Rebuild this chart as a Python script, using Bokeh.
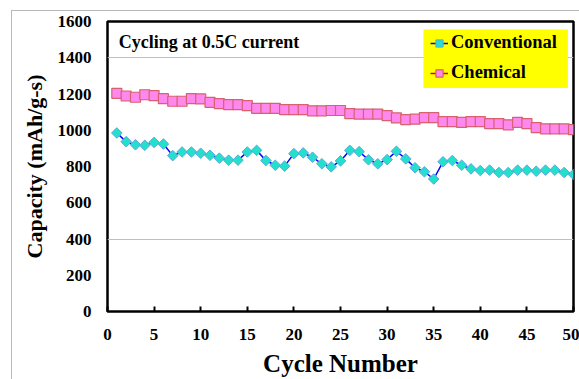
from bokeh.plotting import figure
from bokeh.models import Legend, LegendItem, Label, FixedTicker, Range1d, BoxAnnotation
from bokeh.embed import file_html
from bokeh.resources import INLINE

cycles = list(range(1, 51))
conventional = [985, 937, 920, 917, 933, 924, 860, 880, 880, 873,
                862, 846, 835, 835, 880, 889, 833, 807, 802, 871,
                875, 851, 815, 798, 831, 889, 882, 837, 815, 838,
                884, 842, 793, 771, 731, 826, 833, 807, 787, 778,
                780, 767, 767, 780, 780, 774, 780, 780, 767, 756]
chemical = [1204, 1189, 1182, 1196, 1191, 1174, 1160, 1160, 1174, 1173,
            1154, 1147, 1141, 1141, 1136, 1121, 1121, 1121, 1114, 1114,
            1114, 1107, 1107, 1109, 1109, 1092, 1089, 1089, 1089, 1081,
            1068, 1059, 1061, 1070, 1070, 1048, 1048, 1043, 1048, 1048,
            1037, 1037, 1030, 1043, 1037, 1015, 1008, 1008, 1008, 1003]
x_ticks = [0, 5, 10, 15, 20, 25, 30, 35, 40, 45, 50]
y_ticks = [0, 200, 400, 600, 800, 1000, 1200, 1400, 1600]
grid_ticks = [400, 1400]
title_text = "Cycling at 0.5C current"
x_title = "Cycle Number"
y_title = "Capacity (mAh/g-s)"

FONT = "Liberation Serif"
GRAY_LINE = "linear-gradient(#b8b8b8, #b8b8b8)"

p = figure(width=579, height=379, output_backend="svg", toolbar_location=None,
           x_range=Range1d(0, 50), y_range=Range1d(0, 1600),
           min_border_left=107, min_border_right=6, min_border_top=21, min_border_bottom=66)

p.outline_line_color = "black"
p.outline_line_width = 2.5
p.background_fill_color = "white"
p.border_fill_color = None
p.styles = {
    "background": f"{GRAY_LINE} 11px 10px / 1px 100% no-repeat, "
                  f"{GRAY_LINE} 11px 10px / 100% 1px no-repeat, white"
}

p.xgrid.visible = False
p.ygrid.ticker = FixedTicker(ticks=grid_ticks)
p.ygrid.grid_line_color = "#c0c0c0"
p.ygrid.grid_line_width = 1

p.xaxis.ticker = FixedTicker(ticks=x_ticks)
p.yaxis.ticker = FixedTicker(ticks=y_ticks)
for ax in (p.xaxis[0], p.yaxis[0]):
    ax.axis_line_color = None
    ax.minor_tick_line_color = None
    ax.major_label_text_font = FONT
    ax.major_label_text_font_style = "bold"
    ax.major_label_text_font_size = "17px"
    ax.major_label_text_color = "black"
    ax.axis_label_text_font = FONT
    ax.axis_label_text_font_style = "bold"
    ax.axis_label_text_color = "black"

p.xaxis.axis_label_text_font_size = "25px"
p.yaxis.axis_label_text_font_size = "22px"

p.xaxis.major_tick_in = 5
p.xaxis.major_tick_out = 0
p.xaxis.major_tick_line_color = "black"
p.xaxis.major_tick_line_width = 2
p.xaxis.major_label_standoff = 17
p.xaxis.axis_label = x_title
p.xaxis.axis_label_standoff = 7

p.yaxis.major_tick_in = 0
p.yaxis.major_tick_out = 0
p.yaxis.major_label_standoff = 16
p.yaxis.axis_label = y_title
p.yaxis.axis_label_standoff = 8

# yellow legend panel (inside the frame)
p.add_layout(BoxAnnotation(left=33.9, right=49.4, bottom=1233, top=1556,
                           fill_color="#ffff00", fill_alpha=1, line_color=None,
                           level="underlay"))

l1 = p.line(cycles, conventional, line_color="#0000ff", line_width=1.5)
s1 = p.scatter(cycles, conventional, marker="square", angle=0.785398, size=7.5,
               fill_color="#22e0cc", line_color="#5fa8e0", line_width=1)
l2 = p.line(cycles, chemical, line_color="#dd0000", line_width=1.5)
s2 = p.scatter(cycles, chemical, marker="square", size=10,
               fill_color="#ff88ee", line_color="#d86070", line_width=1.2)

legend = Legend(items=[LegendItem(label="Conventional", renderers=[l1, s1]),
                       LegendItem(label="Chemical", renderers=[l2, s2])],
                location=(323, 228))
legend.background_fill_alpha = 0
legend.border_line_color = None
legend.label_text_font = FONT
legend.label_text_font_style = "bold"
legend.label_text_font_size = "18.5px"
legend.label_text_color = "black"
legend.glyph_width = 18
legend.glyph_height = 20
legend.label_height = 20
legend.label_standoff = 3
legend.spacing = 9
legend.padding = 2
legend.margin = 0
p.add_layout(legend)

p.add_layout(Label(x=1.2, y=1485, text=title_text, text_font=FONT,
                   text_font_style="bold", text_font_size="18px",
                   text_baseline="middle", text_color="black"))

open("out.html", "w").write(file_html(p, INLINE))
